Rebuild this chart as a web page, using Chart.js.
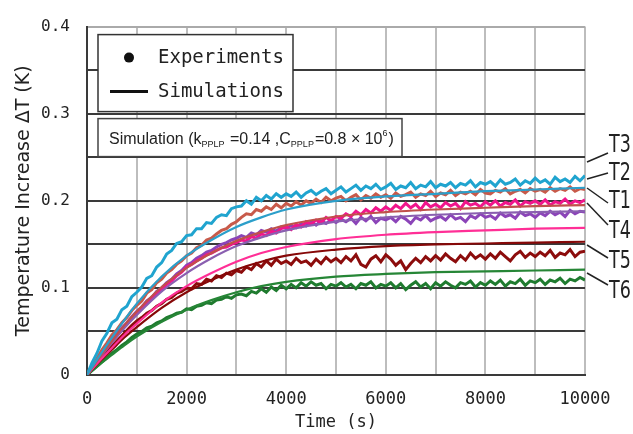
<!DOCTYPE html>
<html>
<head>
<meta charset="utf-8">
<script src="https://cdn.jsdelivr.net/npm/chart.js@4.4.1/dist/chart.umd.min.js"></script>
<style>
  body { margin: 0; background: #fff; }
  #chart { display: block; }
</style>
</head>
<body>
<canvas id="chart" width="633" height="434"></canvas>
<script>
// sampling times (s)
const TIME_EXP = Array.from({ length: 101 }, (_, i) => i * 100);
const TIME_SIM = [0, 250, 500, 750, 1000, 1500, 2000, 2500, 3000, 3500, 4000, 5000, 6000, 7000, 8000, 9000, 10000];

const SERIES_NAMES = ['T3', 'T2', 'T1', 'T4', 'T5', 'T6'];
const EXP_COLORS = ['#20a4cf', '#c85a4a', '#f0168c', '#8b44b8', '#8c0c0c', '#1f7b2f'];
const SIM_COLORS = ['#2c9fca', '#c0504a', '#ff2f96', '#8a5fb0', '#860808', '#268636'];

// measured temperature increase (K)
const EXP_T3 = [0, .014, .025, .039, .048, .060, .064, .075, .079, .090, .095,
  .101, .111, .114, .124, .129, .139, .143, .151, .153, .160,
  .161, .168, .168, .175, .174, .181, .184, .183, .191, .193,
  .194, .200, .196, .204, .200, .206, .202, .208, .204, .208,
  .205, .210, .204, .209, .212, .207, .211, .214, .208, .212,
  .216, .210, .214, .218, .212, .217, .214, .219, .213, .216,
  .220, .213, .217, .215, .221, .214, .218, .216, .222, .215,
  .219, .217, .221, .215, .220, .218, .223, .216, .221, .219,
  .222, .217, .224, .219, .221, .225, .218, .223, .220, .226,
  .221, .224, .219, .227, .222, .225, .221, .228, .223, .229];
const EXP_T2 = [0, .010, .019, .029, .037, .046, .052, .060, .066, .074, .080,
  .085, .094, .098, .106, .110, .117, .121, .127, .131, .137,
  .140, .146, .149, .155, .157, .162, .166, .168, .173, .176,
  .181, .185, .184, .190, .188, .193, .190, .196, .192, .197,
  .194, .199, .195, .200, .197, .202, .198, .204, .200, .203,
  .205, .200, .204, .207, .201, .206, .203, .208, .204, .207,
  .203, .209, .205, .207, .210, .204, .208, .206, .211, .205,
  .209, .207, .212, .206, .210, .208, .211, .207, .213, .209,
  .208, .212, .210, .214, .208, .211, .213, .209, .214, .211,
  .213, .210, .215, .211, .214, .212, .216, .211, .214, .213];
const EXP_T1 = [0, .008, .016, .024, .031, .038, .045, .052, .058, .065, .071,
  .076, .083, .087, .094, .098, .104, .108, .114, .118, .124,
  .127, .131, .134, .138, .140, .143, .146, .147, .150, .152,
  .155, .154, .159, .157, .162, .160, .165, .163, .168, .170,
  .167, .173, .170, .176, .173, .178, .175, .181, .177, .182,
  .180, .185, .182, .188, .184, .190, .186, .192, .188, .193,
  .189, .195, .191, .197, .192, .196, .190, .198, .193, .196,
  .192, .198, .194, .197, .191, .199, .195, .197, .193, .199,
  .195, .200, .194, .198, .196, .201, .194, .199, .197, .200,
  .196, .201, .195, .199, .197, .202, .196, .200, .198, .201];
const EXP_T4 = [0, .009, .017, .026, .033, .040, .047, .054, .060, .067, .073,
  .078, .085, .089, .096, .100, .106, .110, .116, .120, .126,
  .129, .134, .137, .141, .143, .147, .150, .152, .155, .157,
  .160, .158, .163, .161, .166, .164, .168, .165, .170, .168,
  .172, .169, .174, .171, .176, .172, .177, .174, .178, .175,
  .179, .176, .180, .174, .181, .177, .182, .175, .180, .178,
  .181, .176, .182, .179, .174, .181, .178, .183, .177, .180,
  .182, .178, .184, .179, .181, .176, .183, .180, .185, .181,
  .183, .179, .186, .182, .184, .180, .187, .183, .185, .181,
  .186, .183, .188, .184, .187, .182, .189, .185, .188, .187];
const EXP_T5 = [0, .007, .014, .021, .027, .033, .039, .045, .051, .057, .062,
  .066, .071, .074, .079, .082, .087, .089, .094, .096, .100,
  .099, .105, .104, .110, .108, .114, .112, .117, .115, .120,
  .118, .124, .121, .128, .124, .131, .126, .133, .128, .131,
  .127, .134, .129, .131, .126, .133, .128, .135, .130, .134,
  .129, .136, .131, .138, .127, .124, .133, .137, .130, .138,
  .133, .126, .131, .121, .128, .134, .129, .136, .131, .137,
  .132, .139, .134, .130, .137, .132, .140, .134, .138, .133,
  .139, .134, .141, .136, .131, .138, .142, .135, .140, .136,
  .141, .137, .143, .135, .140, .138, .144, .136, .141, .142];
const EXP_T6 = [0, .005, .010, .015, .020, .025, .029, .034, .038, .043, .047,
  .050, .054, .056, .060, .062, .066, .068, .071, .072, .076,
  .075, .079, .080, .083, .082, .086, .087, .090, .088, .092,
  .093, .091, .096, .094, .099, .095, .101, .097, .103, .099,
  .104, .100, .106, .102, .107, .103, .105, .099, .104, .102,
  .106, .101, .104, .099, .105, .103, .107, .100, .104, .102,
  .106, .100, .105, .098, .103, .107, .101, .105, .099, .106,
  .102, .107, .103, .100, .106, .104, .108, .101, .106, .103,
  .108, .104, .109, .102, .107, .105, .110, .103, .108, .106,
  .110, .104, .109, .107, .111, .105, .110, .108, .112, .109];

// simulated curves (K)
const SIM_T3 = [0, .022, .043, .063, .082, .113, .137, .155, .170, .181, .190, .200, .205, .208, .211, .213, .215];
const SIM_T2 = [0, .020, .039, .057, .073, .101, .123, .140, .154, .164, .172, .182, .187, .190, .192, .194, .195];
const SIM_T1 = [0, .016, .031, .046, .059, .083, .102, .117, .130, .140, .147, .156, .161, .164, .166, .168, .169];
const SIM_T4 = [0, .019, .037, .054, .069, .096, .117, .134, .148, .158, .166, .176, .181, .184, .186, .187, .188];
const SIM_T5 = [0, .015, .029, .043, .055, .077, .095, .109, .121, .130, .137, .144, .148, .150, .151, .152, .153];
const SIM_T6 = [0, .012, .023, .034, .044, .061, .075, .086, .095, .102, .107, .113, .116, .118, .119, .120, .121];

const EXP_DATA = [EXP_T3, EXP_T2, EXP_T1, EXP_T4, EXP_T5, EXP_T6];
const SIM_DATA = [SIM_T3, SIM_T2, SIM_T1, SIM_T4, SIM_T5, SIM_T6];

const Y_TICKS_MAX = 0.4;
const X_TICKS_MAX = 10000;

const datasets = [];
EXP_DATA.forEach((vals, i) => {
  datasets.push({
    label: SERIES_NAMES[i] + ' exp',
    data: vals.map((v, k) => ({ x: TIME_EXP[k], y: v })),
    borderColor: EXP_COLORS[i],
    borderWidth: 3,
    borderJoinStyle: 'miter',
    pointRadius: 0,
    fill: false,
    order: 2
  });
});
SIM_DATA.forEach((vals, i) => {
  datasets.push({
    label: SERIES_NAMES[i] + ' sim',
    data: vals.map((v, k) => ({ x: TIME_SIM[k], y: v })),
    borderColor: SIM_COLORS[i],
    borderWidth: 2.2,
    cubicInterpolationMode: 'monotone',
    pointRadius: 0,
    fill: false,
    order: 1
  });
});

// legend, parameter box, right-hand series labels
const notes = {
  id: 'notes',
  afterDraw(chart) {
    const { ctx, chartArea: a } = chart;
    ctx.save();

    // legend box
    ctx.fillStyle = '#fff';
    ctx.strokeStyle = '#333';
    ctx.lineWidth = 1.5;
    ctx.fillRect(a.left + 11, a.top + 8, 195, 77);
    ctx.strokeRect(a.left + 11, a.top + 8, 195, 77);
    ctx.fillStyle = '#111';
    ctx.beginPath();
    ctx.arc(a.left + 42, a.top + 31, 5, 0, Math.PI * 2);
    ctx.fill();
    ctx.lineWidth = 3;
    ctx.strokeStyle = '#111';
    ctx.beginPath();
    ctx.moveTo(a.left + 23, a.top + 65);
    ctx.lineTo(a.left + 61, a.top + 65);
    ctx.stroke();
    ctx.font = '19px "DejaVu Sans Mono"';
    ctx.fillStyle = '#222';
    ctx.textBaseline = 'middle';
    ctx.textAlign = 'left';
    ctx.fillText('Experiments', a.left + 71, a.top + 31);
    ctx.fillText('Simulations', a.left + 71, a.top + 65);

    // simulation parameter box
    ctx.fillStyle = '#fff';
    ctx.strokeStyle = '#444';
    ctx.lineWidth = 1.5;
    ctx.fillRect(a.left + 11, a.top + 92, 304, 38);
    ctx.strokeRect(a.left + 11, a.top + 92, 304, 38);
    const parts = [
      ['Simulation (k', 'n'], ['PPLP', 'sub'], [' =0.14 ,C', 'n'], ['PPLP', 'sub'],
      ['=0.8 \u00d7 10', 'n'], ['6', 'sup'], [')', 'n']
    ];
    let x = a.left + 22;
    const base = a.top + 117;
    ctx.fillStyle = '#222';
    ctx.textBaseline = 'alphabetic';
    parts.forEach(([t, kind]) => {
      if (kind === 'n') {
        ctx.font = '16px "Liberation Sans"';
        ctx.fillText(t, x, base);
      } else if (kind === 'sub') {
        ctx.font = '9px "Liberation Sans"';
        ctx.fillText(t, x, base + 3);
      } else {
        ctx.font = '9px "Liberation Sans"';
        ctx.fillText(t, x, base - 8);
      }
      x += ctx.measureText(t).width + (kind === 'n' ? 0 : 1);
    });

    // series labels with leader lines
    const leaders = [[162, 153], [179, 173], [188, 203], [203, 225], [245, 258], [273, 285]];
    const labelY = [145, 173, 201, 231, 261, 291];
    ctx.strokeStyle = '#222';
    ctx.lineWidth = 1.5;
    leaders.forEach(([y0, y1]) => {
      ctx.beginPath();
      ctx.moveTo(a.right + 2, y0);
      ctx.lineTo(a.right + 23, y1);
      ctx.stroke();
    });
    ctx.fillStyle = '#222';
    ctx.textBaseline = 'middle';
    ctx.font = '25px "DejaVu Sans"';
    SERIES_NAMES.forEach((n, i) => {
      ctx.save();
      ctx.translate(a.right + 24, labelY[i]);
      ctx.scale(0.7, 1);
      ctx.fillText(n, 0, 0);
      ctx.restore();
    });
    ctx.restore();
  }
};

new Chart(document.getElementById('chart'), {
  type: 'line',
  data: { datasets },
  options: {
    responsive: false,
    animation: false,
    devicePixelRatio: 1,
    layout: { padding: { left: 0, right: 48, top: 15, bottom: 0 } },
    plugins: {
      legend: { display: false },
      tooltip: { enabled: false }
    },
    scales: {
      x: {
        type: 'linear',
        min: 0,
        max: X_TICKS_MAX,
        afterFit: s => { s.height = 59; },
        grid: { color: '#bdbdbd', lineWidth: 2, drawTicks: false },
        border: { color: '#3a3a3a', width: 2 },
        ticks: {
          stepSize: 1000,
          autoSkip: false,
          maxRotation: 0,
          padding: 14,
          color: '#222',
          font: { family: '"DejaVu Sans Mono"', size: 17 },
          callback: v => (v % 2000 === 0 ? String(v) : '')
        },
        title: {
          display: true,
          text: 'Time (s)',
          color: '#222',
          font: { family: '"DejaVu Sans Mono"', size: 17 },
          padding: { top: 0, bottom: 1 }
        }
      },
      y: {
        min: 0,
        max: Y_TICKS_MAX,
        afterFit: s => { s.width = 87; },
        grid: {
          color: c => (c.tick && Math.abs(c.tick.value - Y_TICKS_MAX) < 1e-9 ? '#aaaaaa' : '#3a3a3a'),
          lineWidth: 2,
          drawTicks: false
        },
        border: { color: '#3a3a3a', width: 2 },
        ticks: {
          stepSize: 0.05,
          padding: 17,
          color: '#222',
          font: { family: '"DejaVu Sans Mono"', size: 16 },
          callback: v => {
            const k = Math.round(v * 100);
            if (k % 10 !== 0) return '';
            return k === 0 ? '0' : (k / 100).toFixed(1);
          }
        },
        title: {
          display: true,
          text: 'Temperature Increase \u0394T (K)',
          color: '#222',
          font: { family: '"DejaVu Sans"', size: 19 },
          padding: { top: 13, bottom: 0 }
        }
      }
    }
  },
  plugins: [notes]
});
</script>
</body>
</html>
